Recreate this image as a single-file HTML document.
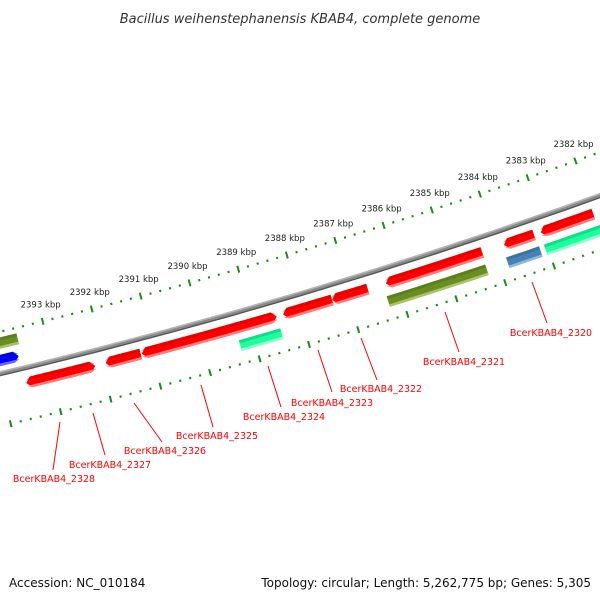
<!DOCTYPE html>
<html><head><meta charset="utf-8"><style>
html,body{margin:0;padding:0;background:#fff;}
svg{display:block;font-family:"DejaVu Sans","Liberation Sans",sans-serif;}
</style></head><body>
<svg id="map" width="600" height="600" viewBox="0 0 600 600" xmlns="http://www.w3.org/2000/svg">
<rect width="600" height="600" fill="#fff"/>
<text x="300" y="23" text-anchor="middle" font-size="13" font-style="italic" fill="#333">Bacillus weihenstephanensis KBAB4, complete genome</text>
<text x="9" y="587" font-size="12" fill="#111">Accession: NC_010184</text>
<text x="591" y="587" text-anchor="end" font-size="12" fill="#111">Topology: circular; Length: 5,262,775 bp; Genes: 5,305</text>
<g id="axisg"></g>
<g id="labels"></g>
</svg>
<script>
// data (kbp)
const topTickKbp = [2382,2383,2384,2385,2386,2387,2388,2389,2390,2391,2392,2393,2394];
const bottomTickKbp = [2381.08,2382.08,2383.08,2384.08,2385.08,2386.08,2387.08,2388.08,2389.08,2390.08,2391.08,2392.08,2393.08,2394.08];
const geneNames = ["2328","2327","2326","2325","2324","2323","2322","2321","2320","2320b"];
const geneStart = [2393.60,2392.74,2392.00,2391.27,2389.30,2388.40,2387.40,2386.30,2383.87,2383.11];
const geneEnd   = [2392.72,2392.21,2391.29,2389.28,2388.53,2387.40,2386.67,2384.32,2383.25,2382.02];
const geneDir   = ["L","R","L","L","R","L","L","L","L","L"];
const row2Start = [2389.37,2386.36,2383.91,2383.13];
const row2End   = [2388.53,2384.34,2383.23,2381.93];
const row2Color = ["teal","olive","steel","teal"];
const fwdStart  = [2396,2396];
const fwdEnd    = [2393.62,2393.56];
const fwdColor  = ["blue","olive"];
const labelNames = ["BcerKBAB4_2320","BcerKBAB4_2321","BcerKBAB4_2322","BcerKBAB4_2323","BcerKBAB4_2324","BcerKBAB4_2325","BcerKBAB4_2326","BcerKBAB4_2327","BcerKBAB4_2328"];

const NS="http://www.w3.org/2000/svg";
const g=document.getElementById('axisg');
const lab=document.getElementById('labels');
const sOf=p=>(2388-p)*51-1;
const th=-16.5*Math.PI/180;
const U=[Math.cos(th),Math.sin(th)], N=[-Math.sin(th),Math.cos(th)];
const R=5600, P0=[300,296];
const C=[P0[0]-N[0]*R, P0[1]-N[1]*R];
function toScreen(s,d){
  const f=s/R, r=R+d, c=Math.cos(f), sn=Math.sin(f);
  const dx=N[0]*c+U[0]*sn, dy=N[1]*c+U[1]*sn;
  return [C[0]+r*dx, C[1]+r*dy];
}
function el(tag,attrs,parent){const e=document.createElementNS(NS,tag);for(const k in attrs)e.setAttribute(k,attrs[k]);parent.appendChild(e);return e;}
function ptsStr(list){return list.map(q=>toScreen(q[0],q[1]).map(v=>v.toFixed(2)).join(',')).join(' ');}
function band(a,b,d0,d1){const out=[];const n=12;for(let i=0;i<=n;i++)out.push([a+(b-a)*i/n,d0]);for(let i=n;i>=0;i--)out.push([a+(b-a)*i/n,d1]);return out;}
const pal={red:["#ff0000","#c80000","#ff7a7a"],teal:["#1dff9e","#00b36b","#8fffcf"],olive:["#6b8e23","#4d6a14","#a9c468"],steel:["#4682b4","#2c5f8a","#8fb7db"],blue:["#0000ff","#0000b0","#6a6aff"]};

// backbone
let bb=el('polygon',{points:ptsStr(band(-420,420,-4.5,0.5)),fill:'#8a8a8a'},g);


el('polygon',{points:ptsStr(band(-420,420,-4.5,-3)),fill:'#b5b5b5'},g);
el('polygon',{points:ptsStr(band(-420,420,-0.8,0.5)),fill:'#555'},g);

// ticks
function ticks(arr,d,name){
  arr.forEach(p=>{
    for(let k=0;k<5;k++){
      const s=sOf(p-k*0.2);
      const len=k===0?7:2.2;
      const t=el('polygon',{points:ptsStr([[s-1,d-len/2],[s+1,d-len/2],[s+1,d+len/2],[s-1,d+len/2]]),fill:'#1a8a1a'},g);
      
      
    }
  });
}
ticks(topTickKbp,-43,'top');
ticks(bottomTickKbp,49,'bottom');
topTickKbp.forEach(p=>{
  const [x,y]=toScreen(sOf(p),-43);
  if(x<15||x>620)return;
  const t=el('text',{x:x-2,y:y-14,'text-anchor':'middle','font-size':'8.5',fill:'#222'},lab);
  t.textContent=p+' kbp';
  
  
});

// genes
function shape(a,b,d,h,dir,clampTop,clampBot){
  const y0=d-h/2,y1=d+h/2,hd=5;
  const top=[],bot=[];const n=10;
  let a2=a,b2=b;
  if(dir==='L')a2=a+hd; if(dir==='R')b2=b-hd;
  for(let i=0;i<=n;i++){const s=a2+(b2-a2)*i/n;top.push([s,y0]);bot.push([s,y1]);}
  let pts=[];
  if(dir==='L')pts.push([a,d]);
  pts=pts.concat(top);
  if(dir==='R')pts.push([b,d]);
  pts=pts.concat(bot.reverse());
  return pts.map(q=>[q[0],Math.min(Math.max(q[1],clampTop),clampBot)]);
}
function gene(p1,p2,d,col,dir,name){
  let a=sOf(p1),b=sOf(p2); if(a>b){const t=a;a=b;b=t;}
  const h=11;
  const c=pal[col];
  const grp=el('g',{},g);
  
  
  el('polygon',{points:ptsStr(shape(a,b,d,h,dir,-1e9,1e9)),fill:c[0]},grp);
  el('polygon',{points:ptsStr(shape(a,b,d,h,dir,-1e9,d-2.5)),fill:c[1],opacity:0.45},grp);
  el('polygon',{points:ptsStr(shape(a,b,d,h,dir,d+h/2-2.5,1e9)),fill:c[2]},grp);
}
geneStart.forEach((p,i)=>gene(p,geneEnd[i],13,'red',geneDir[i],'gene-'+geneNames[i]));
row2Start.forEach((p,i)=>gene(p,row2End[i],31,row2Color[i],'N','gene-row2-'+i));
gene(fwdStart[0],fwdEnd[0],-15,fwdColor[0],'R','forward-gene-blue');
gene(fwdStart[1],fwdEnd[1],-32,fwdColor[1],'N','forward-gene-olive');

// labels with leader lines (screen coords)
const lx1=[532,445,361,318,268,201,134,93,60],ly1=[282,312,338,350,366,385,403,413,422];
const lx2=[547,459,377,332,281,213,162,105,53],ly2=[323,352,380,392,407,427,442,455,470];
const tx=[551,464,381,332,284,217,165,110,54],ty=[336,365,392,406,420,439,454,468,482];
labelNames.forEach((n,i)=>{
  const l=el('line',{x1:lx1[i],y1:ly1[i],x2:lx2[i],y2:ly2[i],stroke:'#ff0000','stroke-width':1},lab);
  
  
  const t=el('text',{x:tx[i],y:ty[i],'text-anchor':'middle','font-size':'9.5',fill:'#ff0000'},lab);
  t.textContent=n;
  
  
});
</script>
</body></html>
